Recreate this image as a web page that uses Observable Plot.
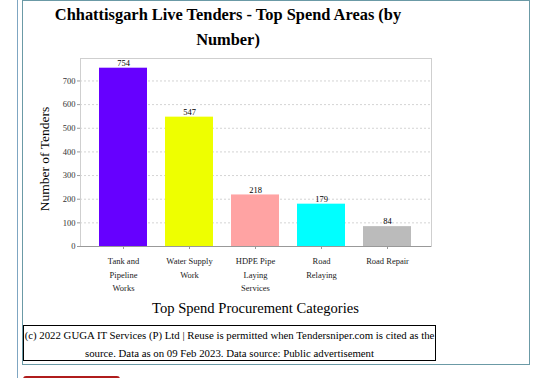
<!DOCTYPE html>
<html>
<head>
<meta charset="utf-8">
<script src="https://cdn.jsdelivr.net/npm/d3@7"></script>
<script src="https://cdn.jsdelivr.net/npm/@observablehq/plot@0.6"></script>
<style>
  html, body { margin: 0; padding: 0; background: #fff; }
  body { width: 545px; height: 378px; overflow: hidden; position: relative; font-family: "Liberation Serif", serif; }
  .abs { position: absolute; }
  #leftline { left: 17px; top: 0; width: 1px; height: 378px; background: #7fa6c2; }
  #box { left: 22px; top: 0; width: 506px; height: 363px; border: 1px solid #6b9aa6; }
  #title { left: 28px; top: 2px; width: 400px; text-align: center; font-weight: bold; font-size: 16.4px; line-height: 25px; color: #000; }
  #chart { left: 0; top: 0; }
  #ylabel { left: 45px; top: 159px; transform: translate(-50%, -50%) rotate(-90deg); font-size: 13.5px; white-space: nowrap; color: #000; }
  #xlabel { left: 80px; width: 351px; top: 300px; text-align: center; font-size: 14.6px; line-height: 16px; color: #000; }
  #caption { left: 23px; top: 325px; width: 411px; height: 34px; border: 1px solid #000; text-align: center; font-size: 10.8px; line-height: 18px; color: #000; white-space: nowrap; }
  #button { left: 23px; top: 376px; width: 97px; height: 10px; background: #b01c1c; border-radius: 3px 3px 0 0; }
</style>
</head>
<body>
<div id="leftline" class="abs"></div>
<div id="box" class="abs"></div>
<div id="chart" class="abs"></div>
<div id="title" class="abs">Chhattisgarh Live Tenders - Top Spend Areas (by<br>Number)</div>
<div id="ylabel" class="abs">Number of Tenders</div>
<div id="xlabel" class="abs">Top Spend Procurement Categories</div>
<div id="caption" class="abs">(c) 2022 GUGA IT Services (P) Ltd | Reuse is permitted when Tendersniper.com is cited as the<br>source. Data as on 09 Feb 2023. Data source: Public advertisement</div>
<div id="button" class="abs"></div>
<script>
const categories = ["Tank and Pipeline Works", "Water Supply Work", "HDPE Pipe Laying Services", "Road Relaying", "Road Repair"];
const tickLabels = ["Tank and\nPipeline\nWorks", "Water Supply\nWork", "HDPE Pipe\nLaying\nServices", "Road\nRelaying", "Road Repair"];
const values = [754, 547, 218, 179, 84];
const colors = ["#6600ff", "#eeff00", "#ffa3a3", "#00ffff", "#bbbbbb"];
const yTicks = [0, 100, 200, 300, 400, 500, 600, 700];

const data = categories.map((c, i) => ({category: c, value: values[i], color: colors[i]}));
const labelOf = new Map(categories.map((c, i) => [c, tickLabels[i]]));

const chart = Plot.plot({
  width: 545,
  height: 300,
  marginTop: 58,
  marginLeft: 80,
  marginRight: 114,
  marginBottom: 54,
  style: {background: "transparent", fontFamily: "'Liberation Serif', serif", fontSize: "8.5px", color: "#222"},
  x: {domain: categories, paddingInner: 0.266, paddingOuter: 0.26, label: null},
  y: {domain: [0, 795], label: null},
  marks: [
    Plot.gridY(yTicks, {stroke: "#d4d4d4", strokeOpacity: 1, strokeDasharray: "2,2"}),
    Plot.frame({stroke: "#cfcfcf"}),
    Plot.barY(data, {x: "category", y: "value", fill: "color"}),
    Plot.ruleY([0], {stroke: "#999"}),
    Plot.text(data, {x: "category", y: "value", text: d => String(d.value), dy: -5, fill: "#000", fontSize: 8.5}),
    Plot.axisY({ticks: yTicks, tickSize: 3, tickPadding: 2, label: null, stroke: "#999", fill: "#333", fontSize: 8.5}),
    Plot.axisX({tickSize: 3, tickPadding: 5, label: null, stroke: "#999", fill: "#222", fontSize: 8.5, lineHeight: 1.6, tickFormat: d => labelOf.get(d)})
  ]
});
document.getElementById("chart").appendChild(chart);
</script>
</body>
</html>
